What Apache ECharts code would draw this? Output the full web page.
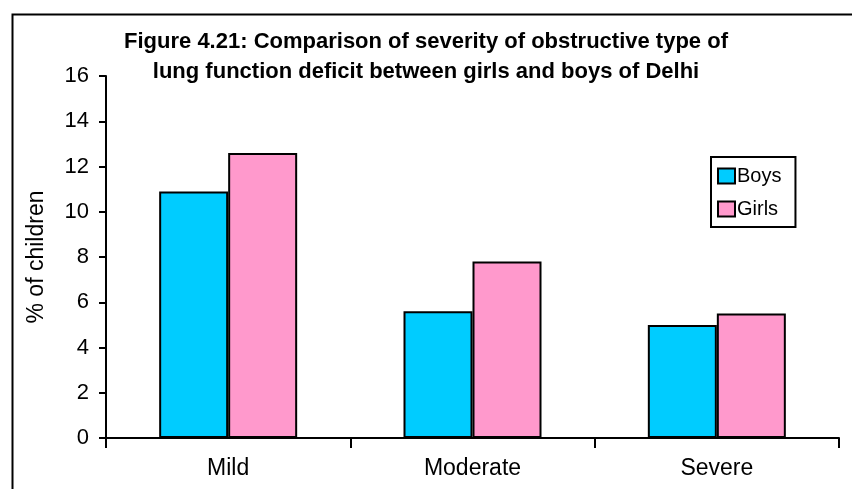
<!DOCTYPE html>
<html>
<head>
<meta charset="utf-8">
<script src="https://cdn.jsdelivr.net/npm/echarts@6/dist/echarts.min.js"></script>
<style>
html,body{margin:0;padding:0;background:#fff;}
#chart{width:852px;height:489px;}
</style>
</head>
<body>
<div id="chart"></div>
<script>
const categories = ['Mild', 'Moderate', 'Severe'];
const boys = [10.9, 5.6, 5.0];
const girls = [12.6, 7.8, 5.5];
const yTicks = [0, 2, 4, 6, 8, 10, 12, 14, 16];
const titleText = 'Figure 4.21: Comparison of severity of obstructive type of\nlung function deficit between girls and boys of Delhi';
const yName = '% of children';

const FONT = "'Liberation Sans', Arial, sans-serif";
const chart = echarts.init(document.getElementById('chart'), null, {renderer: 'canvas'});
chart.setOption({
  animation: false,
  backgroundColor: '#fff',
  textStyle: {fontFamily: FONT, color: '#000'},
  graphic: [{
    type: 'rect', left: 10, top: 12, z: 100,
    shape: {x: 0, y: 0, width: 900, height: 600},
    style: {fill: 'none', stroke: '#000', lineWidth: 2}
  }],
  title: {
    text: titleText,
    left: 'center',
    top: 22,
    textStyle: {fontFamily: FONT, fontWeight: 'bold', fontSize: 22, lineHeight: 30, color: '#000'}
  },
  legend: {
    left: 711, top: 157,
    orient: 'vertical',
    data: ['Boys', 'Girls'],
    icon: 'rect',
    itemWidth: 17, itemHeight: 15,
    itemGap: 13,
    padding: [9, 14, 8, 6],
    borderColor: '#000', borderWidth: 2,
    backgroundColor: '#fff',
    textStyle: {fontFamily: FONT, fontSize: 20, color: '#000', padding: [0, 0, 0, -3]}
  },
  grid: {left: 106, right: 13, top: 76, bottom: 51, containLabel: false},
  xAxis: {
    type: 'category',
    data: categories,
    axisLine: {lineStyle: {color: '#000', width: 2}},
    axisTick: {show: true, length: 10, lineStyle: {color: '#000', width: 2}},
    axisLabel: {fontFamily: FONT, fontSize: 23, color: '#000', margin: 19}
  },
  yAxis: {
    type: 'value',
    min: yTicks[0], max: yTicks[yTicks.length - 1], interval: 2,
    name: yName,
    nameLocation: 'middle',
    nameGap: 58,
    nameTextStyle: {fontFamily: FONT, fontSize: 23, color: '#000'},
    axisLine: {show: true, lineStyle: {color: '#000', width: 2}},
    axisTick: {show: true, length: 7, lineStyle: {color: '#000', width: 2}},
    splitLine: {show: false},
    axisLabel: {fontFamily: FONT, fontSize: 22, color: '#000', margin: 17}
  },
  series: [
    {name: 'Boys', type: 'bar', data: boys, barWidth: 69, barGap: '0%',
     itemStyle: {color: '#00CCFF', borderColor: '#000', borderWidth: 2}},
    {name: 'Girls', type: 'bar', data: girls, barWidth: 69, barGap: '0%',
     itemStyle: {color: '#FF99CC', borderColor: '#000', borderWidth: 2}}
  ]
});
</script>
</body>
</html>
